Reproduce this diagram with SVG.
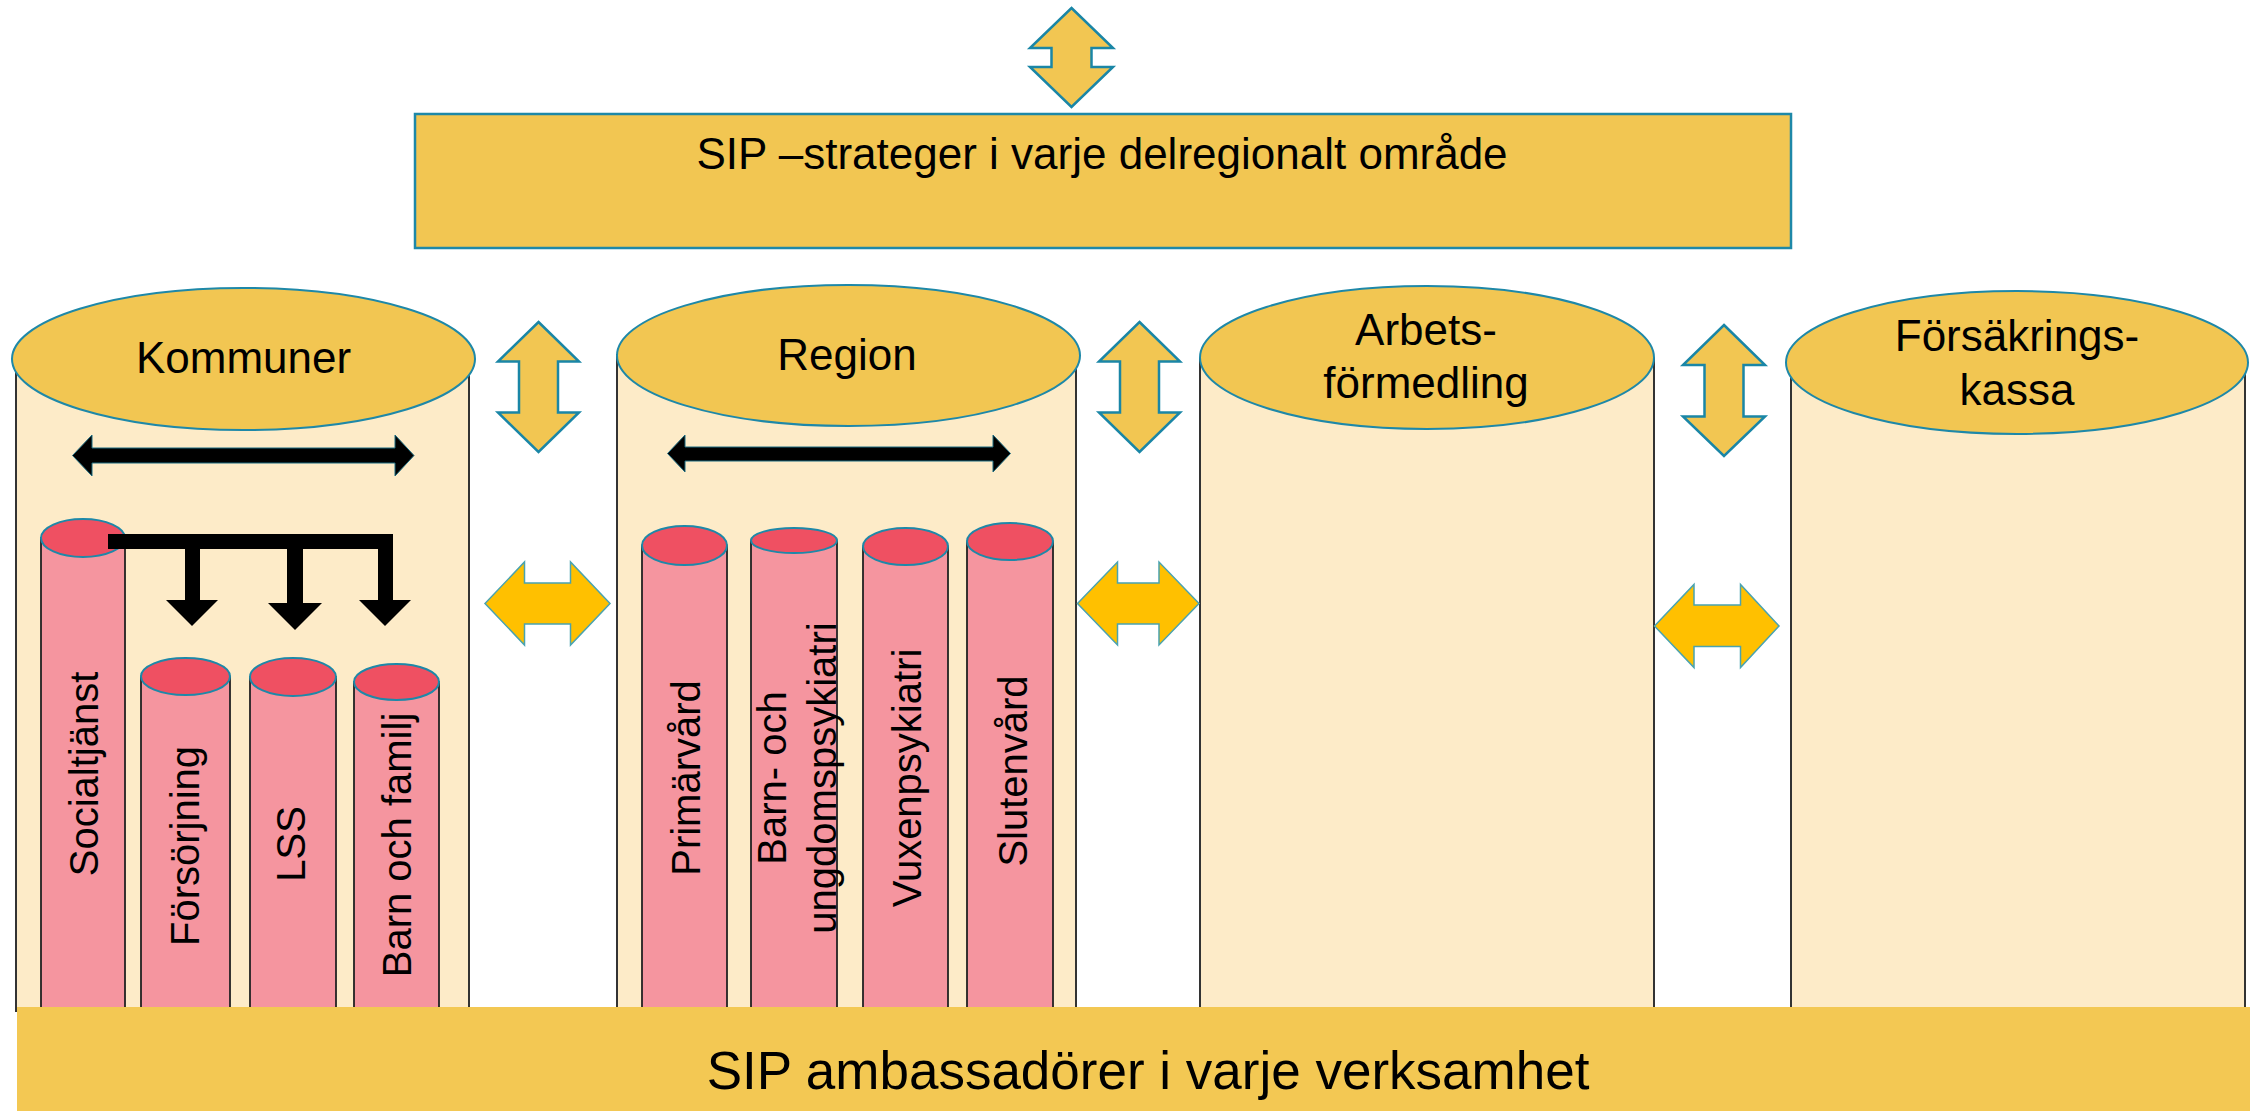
<svg xmlns="http://www.w3.org/2000/svg" width="2250" height="1111" viewBox="0 0 2250 1111">
<style>
.bigbody{fill:#FDEBC8;stroke:#333;stroke-width:2}
.bigtop{fill:#F2C652;stroke:#1E88A8;stroke-width:2}
.smbody{fill:#F5959F;stroke:#222;stroke-width:1.8}
.smtop{fill:#EF5062;stroke:#1E88A8;stroke-width:2}
.yarrow{fill:#F2C652;stroke:#1A86A6;stroke-width:2.5;stroke-linejoin:miter}
.oarrow{fill:#FFC000;stroke:#4AA3B0;stroke-width:1.5}
.barrow{fill:#000;stroke:#1A6A80;stroke-width:1}
.t{font-family:"Liberation Sans",Arial,sans-serif;fill:#000}
.h{font-size:44px;text-anchor:middle}
.v{font-size:40px;text-anchor:middle}
</style>
<rect width="2250" height="1111" fill="#fff"/>
<g id="node-sip-strateger">
<rect x="415" y="114" width="1376" height="134" fill="#F2C652" stroke="#1E88A8" stroke-width="2.5"/>
<text class="t h" x="1102" y="169">SIP –strateger i varje delregionalt område</text>
</g>
<g id="node-kommuner">
<rect class="bigbody" x="16" y="359" width="453" height="652"/>
<ellipse class="bigtop" cx="243.5" cy="359" rx="231.5" ry="71"/>
<text class="t h" x="243.5" y="373">Kommuner</text>
</g>
<g id="node-region">
<rect class="bigbody" x="617" y="355" width="459" height="656"/>
<ellipse class="bigtop" cx="848.5" cy="355.5" rx="231.5" ry="70.5"/>
<text class="t h" x="847" y="370">Region</text>
</g>
<g id="node-arbetsformedling">
<rect class="bigbody" x="1200" y="358" width="454" height="653"/>
<ellipse class="bigtop" cx="1427" cy="357.5" rx="227" ry="71.5"/>
<text class="t h" x="1426" y="345">Arbets-</text>
<text class="t h" x="1426" y="398">förmedling</text>
</g>
<g id="node-forsakringskassa">
<rect class="bigbody" x="1791" y="363" width="454" height="648"/>
<ellipse class="bigtop" cx="2017" cy="362.5" rx="231" ry="71.5"/>
<text class="t h" x="2017" y="351">Försäkrings-</text>
<text class="t h" x="2017" y="405">kassa</text>
</g>
<g id="node-socialtjanst">
<rect class="smbody" x="41" y="538" width="84" height="473"/>
<ellipse class="smtop" cx="83" cy="538" rx="42" ry="19"/>
<text class="t v" transform="translate(98,774) rotate(-90)">Socialtjänst</text>
</g>
<g id="node-forsorjning">
<rect class="smbody" x="141" y="676.5" width="89" height="335"/>
<ellipse class="smtop" cx="185.5" cy="676.5" rx="44.5" ry="18.5"/>
<text class="t v" transform="translate(199,846) rotate(-90)">Försörjning</text>
</g>
<g id="node-lss">
<rect class="smbody" x="250" y="677" width="86" height="334"/>
<ellipse class="smtop" cx="293" cy="677" rx="43" ry="19"/>
<text class="t v" transform="translate(305,844) rotate(-90)">LSS</text>
</g>
<g id="node-barn-familj">
<rect class="smbody" x="354" y="682" width="85" height="329"/>
<ellipse class="smtop" cx="396.5" cy="682" rx="42.5" ry="18"/>
<text class="t v" transform="translate(411,845) rotate(-90)">Barn och familj</text>
</g>
<g id="node-primarvard">
<rect class="smbody" x="642" y="545.5" width="85" height="466"/>
<ellipse class="smtop" cx="684.5" cy="545.5" rx="42.5" ry="19.5"/>
<text class="t v" transform="translate(700,778) rotate(-90)">Primärvård</text>
</g>
<g id="node-bup">
<rect class="smbody" x="751" y="540.5" width="86" height="471"/>
<ellipse class="smtop" cx="794" cy="540.5" rx="43" ry="12.5"/>
<text class="t v" transform="translate(786,778) rotate(-90)">Barn- och</text>
<text class="t v" transform="translate(836,778) rotate(-90)">ungdomspsykiatri</text>
</g>
<g id="node-vuxenpsykiatri">
<rect class="smbody" x="863" y="546.5" width="85" height="465"/>
<ellipse class="smtop" cx="905.5" cy="546.5" rx="42.5" ry="18.5"/>
<text class="t v" transform="translate(921,778) rotate(-90)">Vuxenpsykiatri</text>
</g>
<g id="node-slutenvard">
<rect class="smbody" x="967" y="541.5" width="86" height="470"/>
<ellipse class="smtop" cx="1010" cy="541.5" rx="43" ry="18.5"/>
<text class="t v" transform="translate(1027,771) rotate(-90)">Slutenvård</text>
</g>
<g id="connectors">
<polygon class="yarrow" points="1071.5,8 1113,48 1091.5,48 1091.5,67 1113,67 1071.5,107 1030,67 1051.5,67 1051.5,48 1030,48"/>
<polygon class="yarrow" points="538.5,322 579,361.5 558,361.5 558,412.5 579,412.5 538.5,452 498,412.5 519,412.5 519,361.5 498,361.5"/>
<polygon class="yarrow" points="1139.5,322 1180,361.5 1159,361.5 1159,412.5 1180,412.5 1139.5,452 1099,412.5 1120,412.5 1120,361.5 1099,361.5"/>
<polygon class="yarrow" points="1724,325 1765,365 1743.5,365 1743.5,416.5 1765,416.5 1724,456 1683,416.5 1704.5,416.5 1704.5,365 1683,365"/>
<polygon class="oarrow" points="485,603.5 524.5,562 524.5,583 570.5,583 570.5,562 610,603.5 570.5,645 570.5,624 524.5,624 524.5,645"/>
<polygon class="oarrow" points="1077.5,603.5 1117.5,562 1117.5,583 1159,583 1159,562 1199,603.5 1159,645 1159,624 1117.5,624 1117.5,645"/>
<polygon class="oarrow" points="1654.5,626 1694,584.5 1694,605 1740.5,605 1740.5,584.5 1779,626 1740.5,667.5 1740.5,646.5 1694,646.5 1694,667.5"/>
<polygon class="barrow" points="72.5,455.5 92,435 92,448 395,448 395,435 414,455.5 395,476 395,463 92,463 92,476"/>
<polygon class="barrow" points="667.5,453.5 685,435 685,447 993,447 993,435 1010.5,453.5 993,472 993,461 685,461 685,472"/>
<path fill="#000" d="M108,534 H393 V600 H411 L385,626 L359,600 H378 V549 H303 V603 H322 L295,630 L268,603 H287 V549 H200 V600 H218 L192,626 L166,600 H185 V549 H108 Z"/>
</g>
<g id="node-sip-ambassadorer">
<rect x="17" y="1007" width="2233" height="104" fill="#F3C853"/>
<text class="t" x="1148" y="1089" font-size="53" text-anchor="middle">SIP ambassadörer i varje verksamhet</text>
</g>
</svg>
